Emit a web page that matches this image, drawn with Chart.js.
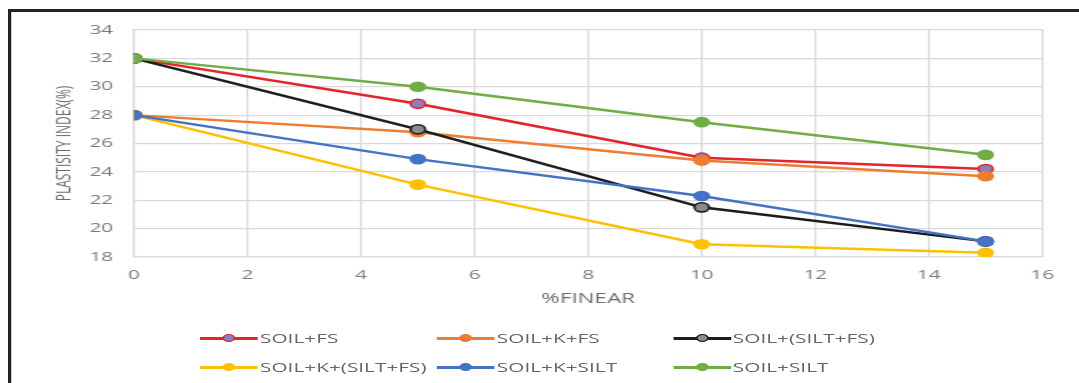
<!DOCTYPE html>
<html lang="en">
<head>
    <meta charset="UTF-8">
    <title>Plasticity Index vs %Finear</title>
    <script src="https://cdn.jsdelivr.net/npm/chart.js@4.4.1/dist/chart.umd.min.js"></script>
    <style>
        body {
            margin: 0;
            background: #fff;
            width: 1079px;
            height: 383px;
            overflow: hidden;
            font-family: 'Open Sans', sans-serif;
        }
        /* the original picture is stretched sideways, so the whole drawing is laid out
           narrow and widened with scaleX */
        .stage {
            position: absolute;
            left: 0;
            top: 0;
            width: 674px;
            height: 383px;
            transform: scaleX(1.6);
            transform-origin: 0 0;
        }
        .frame {
            position: absolute;
            left: 5px;
            top: 9px;
            width: 800px;
            height: 500px;
            border-left: 2.5px solid #222;
            border-top: 3px solid #222;
        }
        .chart-box {
            position: absolute;
            left: 0;
            top: 0;
            width: 674px;
            height: 307px;
        }
        #legend {
            position: absolute;
            left: 125px;
            top: 328px;
            display: grid;
            grid-template-columns: 148px 147.5px 150px;
            row-gap: 9px;
            font-size: 13px;
            color: #666;
        }
        .item {
            display: flex;
            align-items: center;
            height: 20px;
        }
        .swatch {
            position: relative;
            width: 36px;
            height: 12px;
            margin-right: 1.5px;
            flex: none;
        }
        .swatch .ln {
            position: absolute;
            left: 0;
            right: 0;
            top: 5px;
            height: 2.5px;
        }
        .swatch .dot {
            position: absolute;
            left: 14px;
            top: 2px;
            width: 6px;
            height: 6px;
            border-radius: 50%;
            border: 1.5px solid;
        }
    </style>
</head>
<body>
<div class="stage">
    <div class="frame"></div>
    <div class="chart-box"><canvas id="chart"></canvas></div>
    <div id="legend"></div>
</div>

    <script>
        // x values (% finear)
        var finear = [0, 5, 10, 15];

        var soilFs = [32, 28.8, 25.0, 24.2];
        var soilKFs = [28, 26.8, 24.8, 23.7];
        var soilSiltFs = [32, 27.0, 21.5, 19.1];
        var soilKSiltFs = [28, 23.1, 18.9, 18.3];
        var soilKSilt = [28, 24.9, 22.3, 19.1];
        var soilSilt = [32, 30.0, 27.5, 25.2];

        var labels = ['SOIL+FS', 'SOIL+K+FS', 'SOIL+(SILT+FS)', 'SOIL+K+(SILT+FS)', 'SOIL+K+SILT', 'SOIL+SILT'];
        var seriesValues = [soilFs, soilKFs, soilSiltFs, soilKSiltFs, soilKSilt, soilSilt];
        var lineColors = ['#e3242b', '#ed7d31', '#1c1c1c', '#ffc000', '#4472c4', '#70ad47'];
        var dotColors = ['#8a7fbf', '#ed7d31', '#8c8c8c', '#ffc000', '#4472c4', '#70ad47'];

        var datasets = labels.map(function (name, i) {
            return {
                label: name,
                data: seriesValues[i].map(function (v, j) { return { x: finear[j], y: v }; }),
                borderColor: lineColors[i],
                backgroundColor: dotColors[i],
                pointBorderColor: lineColors[i],
                pointBackgroundColor: dotColors[i],
                pointRadius: 4.6,
                pointBorderWidth: 1.5,
                borderWidth: 2.5,
                tension: 0,
                fill: false,
                order: labels.length - i   // later series sit on top, like the original
            };
        });

        var gridColor = '#d9d9d9';
        var tickColor = '#7a7a7a';

        new Chart(document.getElementById('chart'), {
            type: 'line',
            data: { datasets: datasets },
            options: {
                responsive: true,
                maintainAspectRatio: false,
                animation: false,
                layout: { padding: { left: 33, right: 22.5, top: 30, bottom: 0 } },
                plugins: {
                    legend: { display: false },
                    tooltip: { enabled: false }
                },
                scales: {
                    x: {
                        type: 'linear',
                        min: 0,
                        max: 16,
                        ticks: {
                            stepSize: 2,
                            color: tickColor,
                            padding: 10,
                            font: { family: 'Open Sans', size: 13 }
                        },
                        grid: { color: gridColor, lineWidth: 1.2, drawTicks: false },
                        border: { color: gridColor, width: 1.2 },
                        title: {
                            display: true,
                            text: '%FINEAR',
                            color: '#6b6b6b',
                            font: { family: 'Open Sans', size: 14 },
                            padding: { top: 4, bottom: 0 }
                        },
                        afterFit: function (scale) { scale.height = 50; }
                    },
                    y: {
                        min: 18,
                        max: 34,
                        ticks: {
                            stepSize: 2,
                            color: tickColor,
                            padding: 13,
                            font: { family: 'Open Sans', size: 13 }
                        },
                        grid: { color: gridColor, lineWidth: 1.2, drawTicks: false },
                        border: { color: gridColor, width: 1.2 },
                        title: {
                            display: true,
                            text: 'PLASTISITY INDEX(%)',
                            color: '#6b6b6b',
                            font: { family: 'Open Sans', size: 12 },
                            padding: 0
                        },
                        afterFit: function (scale) { scale.width = 50.75; }
                    }
                }
            }
        });

        // legend in the same two-row layout as the original
        var legendEl = document.getElementById('legend');
        labels.forEach(function (name, i) {
            var item = document.createElement('div');
            item.className = 'item';
            item.innerHTML = '<span class="swatch"><span class="ln" style="background:' + lineColors[i] + '"></span>' +
                '<span class="dot" style="background:' + dotColors[i] + ';border-color:' + lineColors[i] + '"></span></span>' +
                '<span>' + name + '</span>';
            legendEl.appendChild(item);
        });
    </script>
</body>
</html>
